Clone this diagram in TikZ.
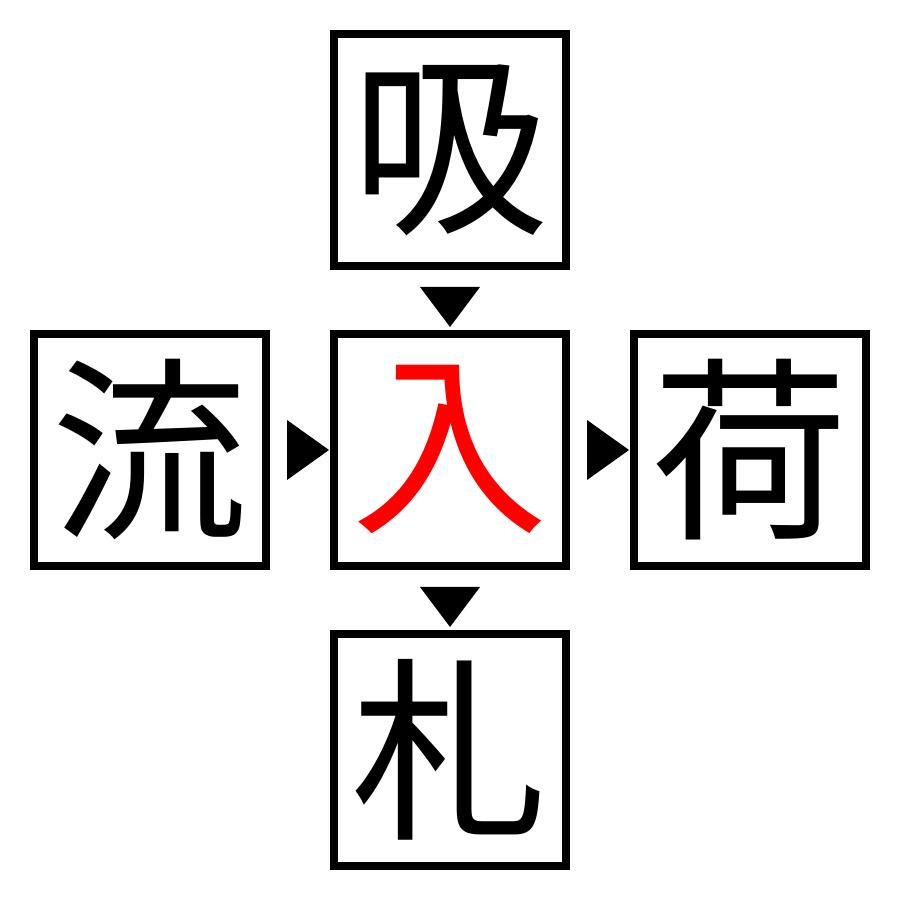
\documentclass[tikz,border=0pt]{standalone}
\usepackage{fontspec}
\newfontfamily\cjk{Noto Sans CJK JP}
\usetikzlibrary{calc}
\begin{document}
\begin{tikzpicture}
\tikzset{box/.style={draw=black,line width=0.08cm,minimum size=2.32cm,inner sep=0pt,font=\cjk\fontsize{56}{56}\selectfont},
tri/.style={fill=black}}
\useasboundingbox (0,0) rectangle (9,9);
\node[box] (c) at (4.5,4.5) {\textcolor{red}{入}};
\node[box] (t) at (4.5,7.5) {吸};
\node[box] (l) at (1.5,4.5) {流};
\node[box] (r) at (7.5,4.5) {荷};
\node[box] (b) at (4.5,1.5) {札};
\fill[tri] ($(t.south)+(-0.3,-0.17)$) -- ($(t.south)+(0.3,-0.17)$) -- ($(t.south)+(0,-0.57)$) -- cycle;
\fill[tri] ($(c.south)+(-0.3,-0.17)$) -- ($(c.south)+(0.3,-0.17)$) -- ($(c.south)+(0,-0.57)$) -- cycle;
\fill[tri] ($(l.east)+(0.17,0.3)$) -- ($(l.east)+(0.17,-0.3)$) -- ($(l.east)+(0.59,0)$) -- cycle;
\fill[tri] ($(c.east)+(0.17,0.3)$) -- ($(c.east)+(0.17,-0.3)$) -- ($(c.east)+(0.59,0)$) -- cycle;
\end{tikzpicture}
\end{document}
